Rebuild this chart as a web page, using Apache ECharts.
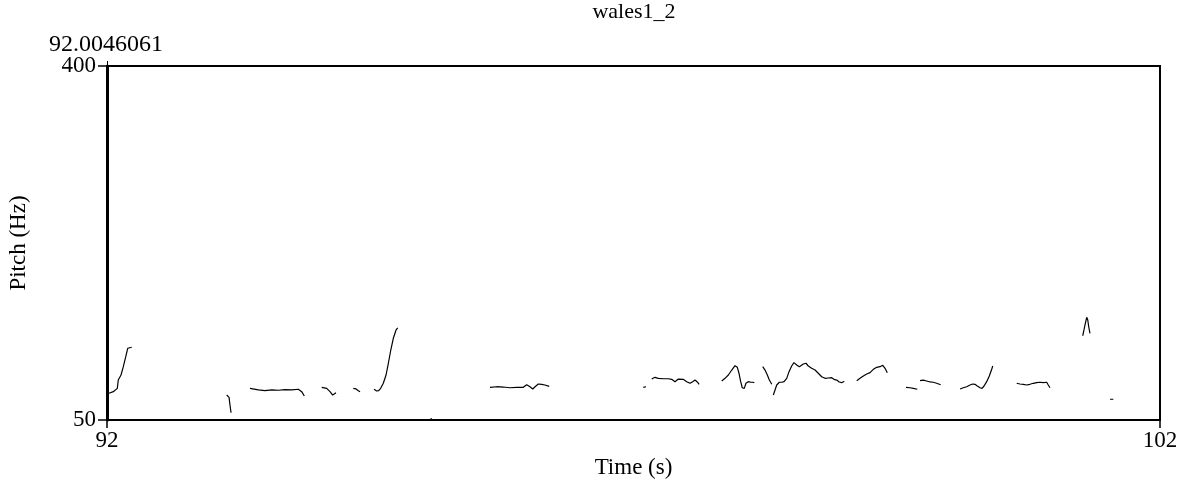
<!DOCTYPE html>
<html>
<head>
<meta charset="utf-8">
<script src="https://cdn.jsdelivr.net/npm/echarts@6/dist/echarts.min.js"></script>
<style>html,body{margin:0;padding:0;background:#fff;}#c{width:1188px;height:481px;}</style>
</head>
<body>
<div id="c"></div>
<script>
const chartTitle = 'wales1_2';
const startLabel = '92.0046061';
const xTicks = [92, 102];
const yTicks = [50, 400];
const xName = 'Time (s)';
const yName = 'Pitch (Hz)';

const seg01 = [[92.019,76.4],[92.060,78.0],[92.098,81.3],[92.107,89.5],[92.133,94.5],[92.155,102.7],[92.178,112.6],[92.197,120.9],[92.235,121.9]];
const seg02 = [[93.137,74.7],[93.159,72.4],[93.168,64.8],[93.178,57.2]];
const seg03 = [[93.358,81.3],[93.374,80.4],[93.437,79.7],[93.500,79.0],[93.564,79.7],[93.627,79.4],[93.690,80.0],[93.754,79.7],[93.817,80.4],[93.849,78.0],[93.874,73.7]];
const seg04 = [[94.039,82.3],[94.086,81.3],[94.118,78.0],[94.143,74.7],[94.175,77.0]];
const seg05 = [[94.339,81.3],[94.365,80.7],[94.387,79.0],[94.403,78.0]];
const seg06 = [[94.536,80.4],[94.561,78.7],[94.580,79.0],[94.599,81.3],[94.624,86.3],[94.650,94.5],[94.672,106.1],[94.695,119.2],[94.719,130.8],[94.745,139.0],[94.761,141.0]];
const seg07 = [[95.072,51.0],[95.085,51.3]];
const seg08 = [[95.637,82.3],[95.701,82.9],[95.763,82.6],[95.827,81.9],[95.891,82.3],[95.953,82.3],[95.986,84.9],[96.017,82.9],[96.043,80.7],[96.065,82.9],[96.096,85.6],[96.128,85.3],[96.159,84.6],[96.200,83.3]];
const seg09 = [[97.093,82.3],[97.119,82.9]];
const seg10 = [[97.173,90.5],[97.204,92.2],[97.236,91.2],[97.283,90.8],[97.331,90.8],[97.363,90.2],[97.394,87.9],[97.426,90.5],[97.442,92.2],[97.473,90.2],[97.505,87.9],[97.537,86.3],[97.562,87.9],[97.584,89.5],[97.606,87.6],[97.623,85.3]];
const seg11 = [[97.838,88.6],[97.869,91.2],[97.901,94.5],[97.933,99.4],[97.964,103.7],[97.986,102.1],[98.002,96.2],[98.018,87.9],[98.033,81.9],[98.052,81.3],[98.068,86.3],[98.090,87.9],[98.113,87.3],[98.132,87.3],[98.147,86.9]];
const seg12 = [[98.227,102.7],[98.249,99.4],[98.271,94.5],[98.290,89.5],[98.313,85.3]];
const seg13 = [[98.328,74.7],[98.344,79.7],[98.360,84.6],[98.385,87.3],[98.408,87.3],[98.430,87.9],[98.455,91.2],[98.477,97.8],[98.502,103.4],[98.524,106.7],[98.550,104.4],[98.575,102.7],[98.613,105.4],[98.638,106.1],[98.660,103.4],[98.692,101.1],[98.724,99.4],[98.755,96.2],[98.787,92.8],[98.819,91.2],[98.850,91.5],[98.882,91.8],[98.904,90.2],[98.930,89.5],[98.954,87.6],[98.977,86.9],[99.002,88.3]];
const seg14 = [[99.120,88.9],[99.151,91.2],[99.183,93.5],[99.215,95.5],[99.246,96.8],[99.278,100.1],[99.310,102.1],[99.341,102.7],[99.367,104.1],[99.389,101.1],[99.410,96.8]];
const seg15 = [[99.588,82.3],[99.626,81.9],[99.657,81.3],[99.695,80.4]];
const seg16 = [[99.721,88.9],[99.752,89.5],[99.784,88.6],[99.816,87.6],[99.847,87.3],[99.879,86.3],[99.895,86.9],[99.917,84.9]];
const seg17 = [[100.101,80.7],[100.132,81.9],[100.164,82.9],[100.196,84.6],[100.221,85.6],[100.243,85.3],[100.265,83.6],[100.291,81.9],[100.310,81.3],[100.329,83.6],[100.354,87.9],[100.379,93.5],[100.402,100.1],[100.411,103.4]];
const seg18 = [[100.639,86.3],[100.670,85.6],[100.702,85.3],[100.734,84.6],[100.765,85.3],[100.797,86.3],[100.829,86.9],[100.860,87.3],[100.892,86.9],[100.924,87.3],[100.939,84.6],[100.955,81.9]];
const seg19 = [[101.266,133.3],[101.278,139.0],[101.291,145.6],[101.304,151.5],[101.314,148.9],[101.323,142.2],[101.335,135.7]];
const seg20 = [[101.525,70.5],[101.557,70.5]];

const segments = [seg01,seg02,seg03,seg04,seg05,seg06,seg07,seg08,seg09,seg10,seg11,seg12,seg13,seg14,seg15,seg16,seg17,seg18,seg19,seg20];
const pitchData = [];
segments.forEach((s, i) => { if (i > 0) pitchData.push([null, null]); s.forEach(p => pitchData.push(p)); });

const FONT = 'Liberation Serif';
const chart = echarts.init(document.getElementById('c'), null, {renderer: 'canvas'});
chart.setOption({
  animation: false,
  backgroundColor: '#fff',
  graphic: [{
    type: 'text', x: 634, y: 12,
    style: {text: chartTitle, fontFamily: FONT, fontSize: 22, fill: '#000', align: 'center', verticalAlign: 'middle'}
  }, {
    type: 'text', x: 106, y: 45,
    style: {text: startLabel, fontFamily: FONT, fontSize: 24, fill: '#000', align: 'center', verticalAlign: 'middle'}
  }],
  grid: {left: 107, right: 28, top: 66, bottom: 61, show: true, borderColor: '#000', borderWidth: 2,
         backgroundColor: 'transparent', containLabel: false, outerBoundsMode: 'none'},
  xAxis: [{
    type: 'value', min: xTicks[0], max: xTicks[xTicks.length - 1], position: 'bottom',
    name: xName, nameLocation: 'middle', nameGap: 34,
    nameTextStyle: {fontFamily: FONT, fontSize: 23, color: '#000'},
    axisLine: {show: true, lineStyle: {color: '#000', width: 2}},
    axisTick: {show: true, length: 8, customValues: xTicks, lineStyle: {color: '#000', width: 1.5}},
    axisLabel: {customValues: xTicks, fontFamily: FONT, fontSize: 23, color: '#000', margin: 9},
    splitLine: {show: false}
  }, {
    type: 'value', min: xTicks[0], max: xTicks[xTicks.length - 1], position: 'top',
    axisLine: {show: false},
    axisTick: {show: true, length: 5, customValues: [xTicks[0]], lineStyle: {color: '#000', width: 1}},
    axisLabel: {show: false},
    splitLine: {show: false}
  }],
  yAxis: {
    type: 'value', min: yTicks[0], max: yTicks[yTicks.length - 1],
    name: yName, nameLocation: 'middle', nameGap: 77, nameRotate: 90,
    nameTextStyle: {fontFamily: FONT, fontSize: 23, color: '#000'},
    axisLine: {show: true, lineStyle: {color: '#000', width: 3}},
    axisTick: {show: true, length: 9, customValues: yTicks, lineStyle: {color: '#000', width: 1.5}},
    axisLabel: {customValues: yTicks, fontFamily: FONT, fontSize: 23, color: '#000', margin: 11},
    splitLine: {show: false}
  },
  series: [{
    type: 'line', xAxisIndex: 0, data: pitchData, showSymbol: false, connectNulls: false,
    lineStyle: {color: '#000', width: 1.2}, silent: true
  }]
});
</script>
</body>
</html>
